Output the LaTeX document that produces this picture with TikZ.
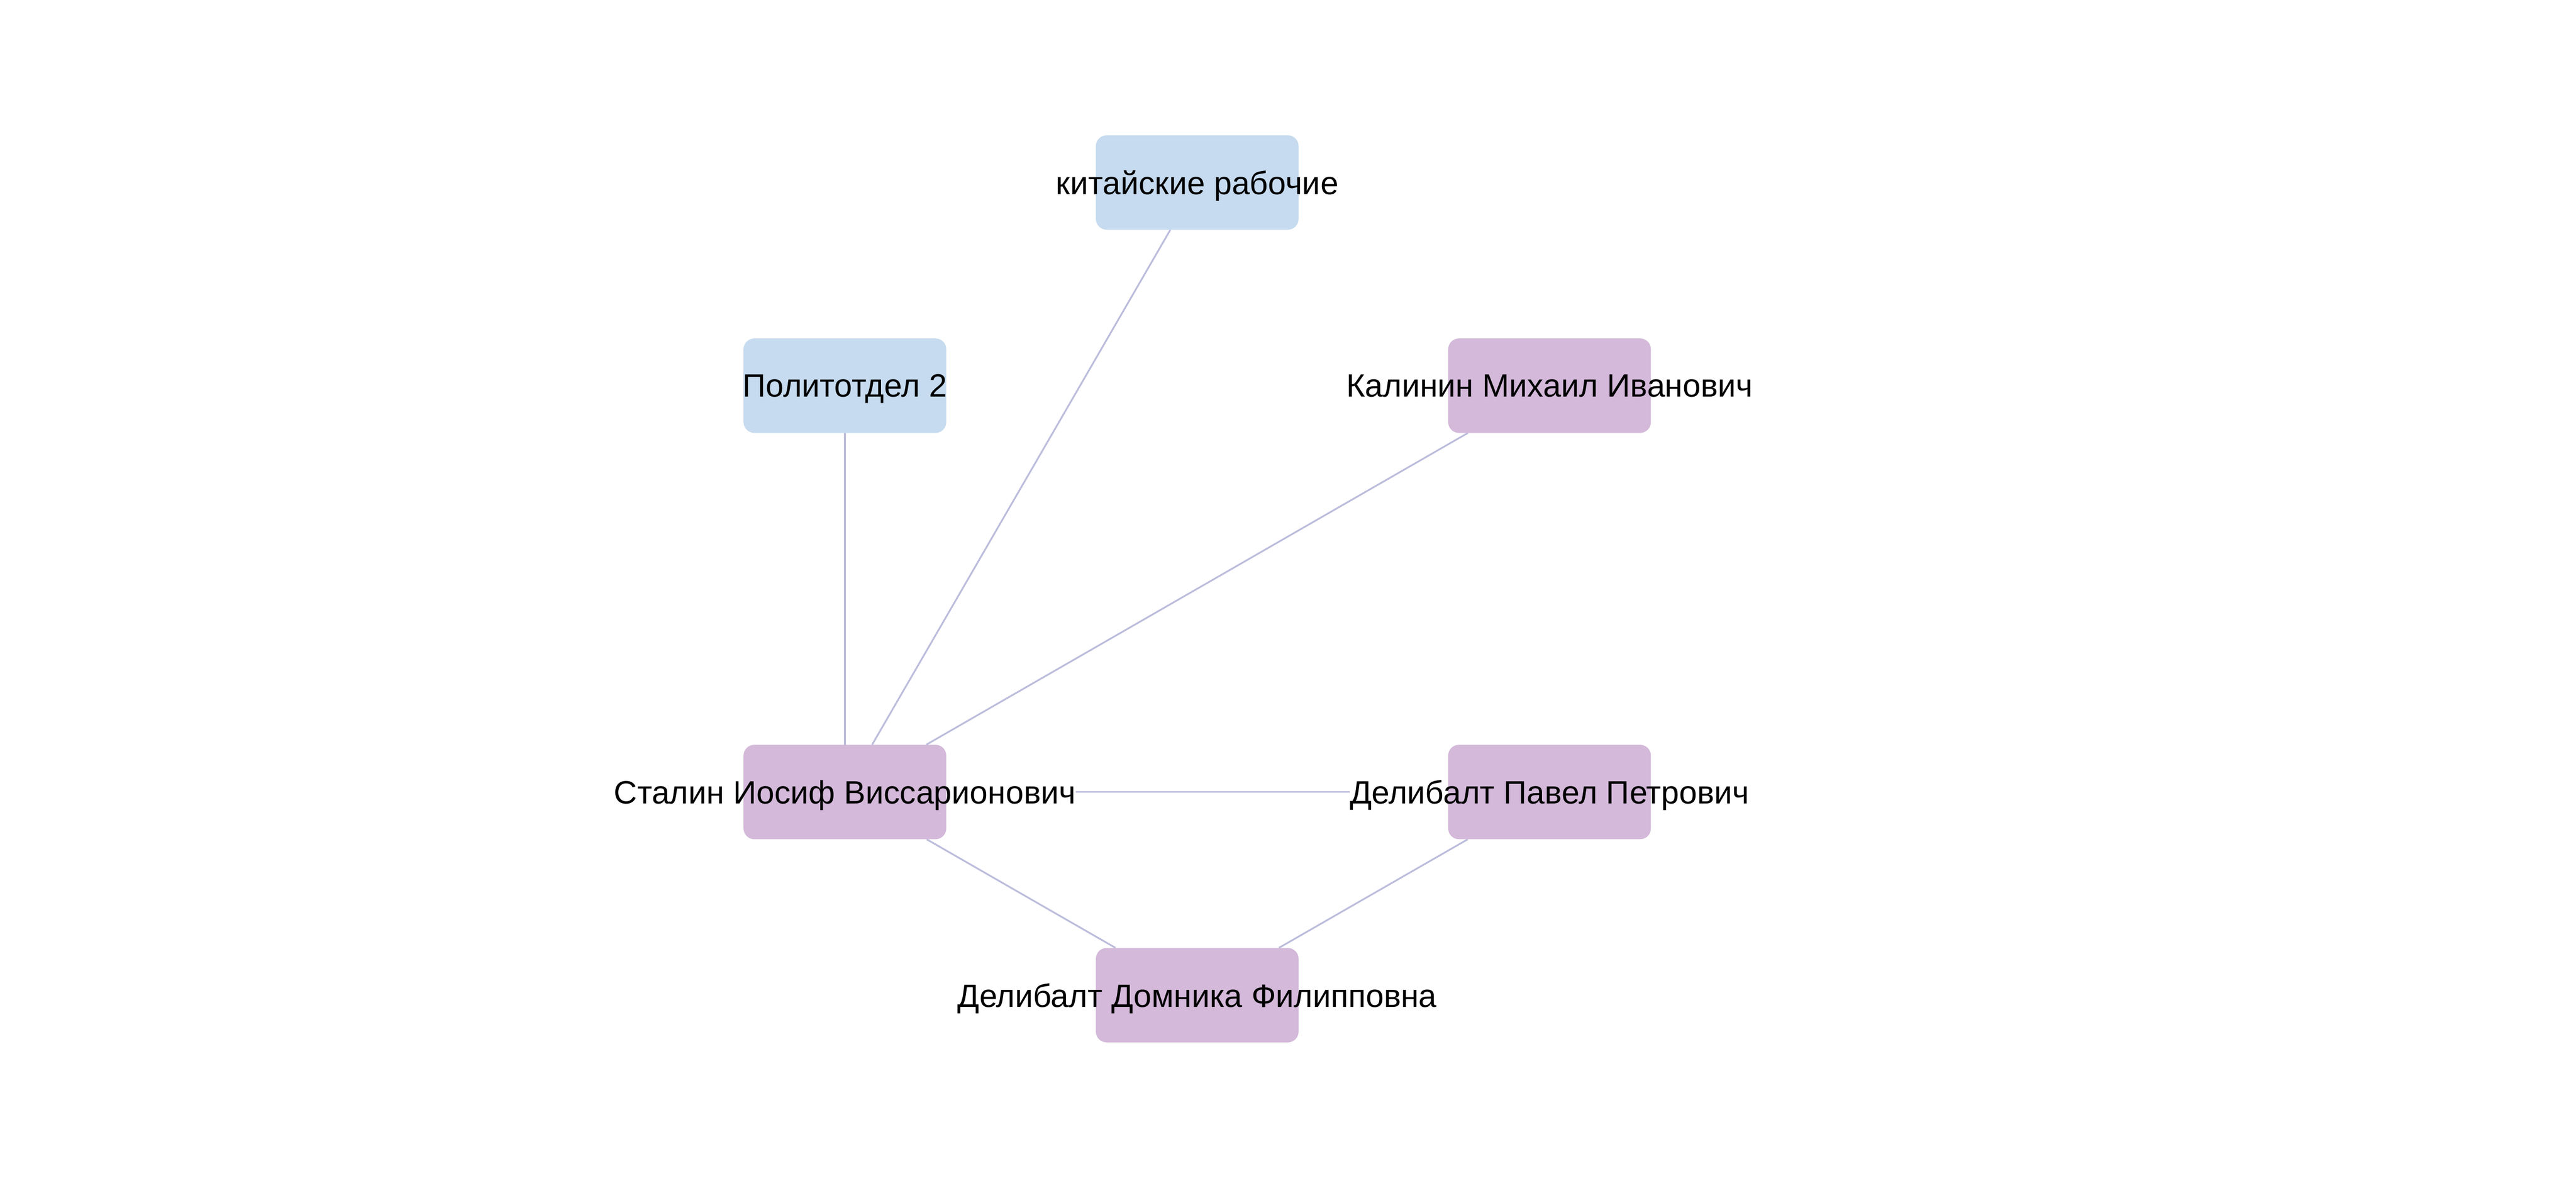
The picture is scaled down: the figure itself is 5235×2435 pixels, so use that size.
\documentclass[tikz,border=0pt]{standalone}
\usepackage{fontspec}
\setmainfont{Liberation Sans}
\usetikzlibrary{calc}
\definecolor{boxblue}{HTML}{C6DBEF}
\definecolor{boxpurple}{HTML}{D4B9DA}
\definecolor{edgecol}{HTML}{BCBDDC}
\pgfdeclarelayer{edgelayer}
\pgfdeclarelayer{boxlayer}
\pgfsetlayers{edgelayer,boxlayer,main}
\tikzset{
  ent/.style={rectangle, inner sep=0pt, minimum width=412pt, minimum height=192pt,
    text depth=0pt, font=\fontsize{65.6}{78}\selectfont, text=black},
  link/.style={draw=edgecol, line width=3.5pt},
}
\newcommand{\entbox}[2]{\fill[#2, rounded corners=22pt] ($(#1.center)+(-206pt,-96pt)$) rectangle ($(#1.center)+(206pt,96pt)$);}
\begin{document}
\begin{tikzpicture}[x=1pt,y=-1pt]
\useasboundingbox (0,0) rectangle (5235,2435);
\node[ent] (kitai) at (2433,371) {китайские рабочие};
\node[ent] (polit) at (1717,784) {Политотдел 2};
\node[ent] (kalinin) at (3149,784) {Калинин Михаил Иванович};
\node[ent] (stalin) at (1717,1610) {Сталин Иосиф Виссарионович};
\node[ent] (pavel) at (3149,1610) {Делибалт Павел Петрович};
\node[ent] (domnika) at (2433,2023) {Делибалт Домника Филипповна};
\begin{pgfonlayer}{boxlayer}
\entbox{kitai}{boxblue}
\entbox{polit}{boxblue}
\entbox{kalinin}{boxpurple}
\entbox{stalin}{boxpurple}
\entbox{pavel}{boxpurple}
\entbox{domnika}{boxpurple}
\end{pgfonlayer}
\begin{pgfonlayer}{edgelayer}
\draw[link] (stalin) -- (polit);
\draw[link] (stalin) -- (kitai);
\draw[link] (stalin) -- (kalinin);
\draw[link] (stalin) -- (pavel);
\draw[link] (stalin) -- (domnika);
\draw[link] (pavel) -- (domnika);
\end{pgfonlayer}
\end{tikzpicture}
\end{document}
